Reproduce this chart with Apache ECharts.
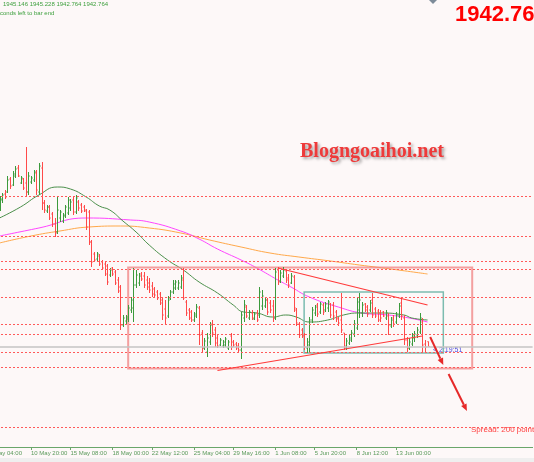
<!DOCTYPE html>
<html><head><meta charset="utf-8">
<script src="https://cdn.jsdelivr.net/npm/echarts@6/dist/echarts.min.js"></script>
<style>html,body{margin:0;padding:0;background:#fdf8f8;overflow:hidden}#c{width:534px;height:462px}</style>
</head><body><div id="c"></div><script>
// ---- time axis (H4 bars) ----
const monthNames = ['Jan','Feb','Mar','Apr','May','Jun','Jul','Aug','Sep','Oct','Nov','Dec'];
const categoryCount = 208;
const categories = [];
(function(){
  const d = new Date(2023, 4, 8);
  let first = true;
  while (categories.length < categoryCount) {
    const wd = d.getDay();
    if (wd !== 0 && wd !== 6) {
      for (const h of [0,4,8,12,16,20]) {
        if (first && h < 4) continue;
        if (categories.length < categoryCount)
          categories.push(d.getDate() + ' ' + monthNames[d.getMonth()] + ' ' + String(h).padStart(2,'0') + ':00');
      }
      first = false;
    }
    d.setDate(d.getDate() + 1);
  }
})();
const tickLabels = ['8 May 04:00','10 May 20:00','15 May 08:00','18 May 00:00','22 May 12:00','25 May 04:00','29 May 16:00','1 Jun 08:00','5 Jun 20:00','8 Jun 12:00','13 Jun 00:00'];
const firstBarTime = '8 May 20:00';

// ---- OHLC (XAUUSD H4) ----
const opens = [2012,2016,2019,2020,2026.5,2023.5,2028,2032,2024.5,2026.5,2024.5,2020,2025,2026,2029.5,2020,2032,2014.5,2010.5,2012.5,2009,2004,2000,2007,2005.5,2008,2009.5,2012,2016,2010,2015,2013.5,2012.5,2010.5,2010,1995,1989,1986.5,1988,1985,1984,1983,1978.5,1982,1980,1976,1972.5,1953.5,1955.5,1956.5,1961,1962,1973.5,1974.5,1979,1978,1976,1974.5,1973,1971.5,1970,1969,1966,1961.5,1958,1967,1970,1972,1972,1972.5,1976,1965,1961,1960,1956,1958,1962,1949.5,1942,1940,1945,1954,1951,1947,1943.5,1943,1943.5,1942,1948,1945,1944,1943,1941,1957,1962.5,1957,1959.5,1956.5,1959.5,1958.5,1963,1963,1966,1964.5,1963,1957,1981,1975.5,1978,1980.5,1977,1974.5,1977.5,1961,1954,1951,1948.5,1942,1943.5,1956,1959.5,1963.5,1960,1963.5,1961,1962,1964,1963.5,1960,1957,1956,1949.5,1942,1944.5,1946,1949,1952,1961,1959.5,1964,1962.5,1961,1966,1961.5,1960.5,1959.5,1960,1957,1958,1953,1957,1955,1958,1964.5,1957,1946,1942,1944,1947,1948.5,1950,1955,1944,1945.146];
const highs = [2018,2019.5,2021,2028,2027.5,2030.5,2033,2033.5,2028,2027,2042.5,2030,2028,2031,2031,2034.5,2035,2016,2013.5,2013.5,2010,2007,2017.5,2011,2009.5,2013.5,2017.5,2016.5,2017.5,2018.5,2016,2014.5,2013.5,2011.5,2011,1996,1990,1990,1989,1986,1985,1984,1982,1982.5,1981,1977.5,1973.5,1958.5,1958.5,1963.5,1967.5,1982,1981,1979.5,1980,1980,1978,1977,1975,1972.5,1971,1970,1967.5,1966,1968,1971,1976,1976,1976,1978.5,1982,1966,1962,1961,1960,1964,1963,1951,1947,1949.5,1955,1956,1952.5,1948.5,1947,1946,1947.5,1946,1949.5,1946,1945,1944.5,1960,1966,1963.5,1961,1961,1960,1961,1972.5,1971,1967,1967,1966,1966,1982,1982.5,1981,1982.5,1981,1979,1979.5,1978.5,1962,1955,1952,1949.5,1947,1957.5,1962.5,1963.5,1964.5,1965,1964.5,1965,1966,1964.5,1965,1961,1957.5,1969.5,1949.5,1947,1948.5,1951,1956,1967,1969.5,1965,1964.5,1963.5,1966,1969.5,1962.5,1961.5,1961,1960.5,1961,1959.5,1957.5,1958.5,1960,1964.5,1967.5,1958.5,1947.5,1947,1949.5,1950.5,1952.5,1959.5,1957,1946,1945.228];
const lows = [2010.5,2014.5,2016.5,2019.5,2021.5,2023,2027,2027.5,2024,2021,2017.5,2018.5,2024,2025,2018.5,2018.5,2011,2009.5,2009.5,2006,2002.5,1997.5,1999,2005,2004.5,2007,2008.5,2010.5,2008.5,2009,2010.5,2009.5,2010,2001,1993.5,1982.5,1985,1985.5,1983,1981,1978,1973.5,1977.5,1978,1973.5,1969.5,1951,1952.5,1954,1955,1959.5,1955,1972,1973,1975.5,1972,1971,1969.5,1967.5,1967.5,1966,1963.5,1956,1953.5,1957,1966,1969,1971,1971,1971.5,1966,1958,1956,1955,1955,1957,1943.5,1940,1941,1937.5,1943.5,1947.5,1942.5,1942,1943,1942,1942.5,1941,1941,1942.5,1941,1940,1936.5,1955,1957,1956,1956,1956,1955,1957,1961,1962,1958.5,1959.5,1955,1956,1973.5,1974.5,1977,1974.5,1972,1974,1960,1953,1947,1947,1941,1939.5,1940,1954.5,1958,1957.5,1959,1958.5,1960,1960,1957,1956,1955,1953,1949.5,1941,1941,1943.5,1945,1947.5,1951,1957,1957.5,1960,1957.5,1960,1957,1957,1955,1955,1957.5,1956,1948.5,1952,1952.5,1954,1957,1956,1943.5,1940,1941,1943,1945,1947,1949,1940,1940,1942.764];
const closes = [2016.5,2018.5,2017.5,2026,2023,2029,2031.5,2028,2027,2022,2020,2028,2027,2030,2021,2033,2014.5,2011,2012.5,2007,2004,1999.5,2011,2010,2008.5,2012.5,2016,2015,2010,2017,2012,2010.5,2011,2002.5,1995,1985,1986,1989,1984,1982,1979,1975,1981,1979,1974.5,1970.5,1953.5,1957,1957.5,1962,1966,1973.5,1978.5,1978,1976.5,1973.5,1972.5,1971,1969,1968.5,1967,1964.5,1958.5,1957,1966,1970,1974,1975,1974.5,1977,1967,1959.5,1957,1956,1959,1962.5,1948.5,1942,1945.5,1947,1953.5,1949.5,1944.5,1943,1946,1945,1946.5,1945,1942.5,1943.5,1942,1941,1958.5,1963.5,1958,1960,1957,1959,1956,1970,1968,1966,1960,1961,1957,1980,1975,1979.5,1981,1976,1973.5,1978,1962,1954.5,1948.5,1948,1942.5,1945,1956,1961,1962.5,1959,1964,1960,1964,1965,1958.5,1958,1956.5,1954.5,1951,1943,1945.5,1947,1949.5,1954,1965,1966,1963.5,1961,1959,1964.5,1958.5,1958,1956,1957,1958,1959.5,1953.5,1956,1954,1958.5,1963,1958,1946,1942,1945,1948,1949,1951,1957,1943.5,1942.5,1942.764];

// ---- moving averages: [bar index, price] ----
const maGreen = [[4,2007],[12,2012.5],[19,2018.5],[26,2022.5],[31,2021.5],[37,2017.5],[42,2013],[46,2011],[51,2005.5],[56,2000],[61,1993.5],[68,1986],[74,1981],[80,1975],[87,1969.5],[93,1963.5],[97,1960],[102,1959.5],[108,1957.5],[113,1958.5],[117,1957.5],[122,1955],[129,1956],[135,1958.5],[141,1959.5],[149,1959.5],[158,1958.5],[161,1957],[167,1956]];
const maMagenta = [[4,1998],[19,2002],[37,2007],[54,2006],[61,2005],[73,2000.5],[80,1996.5],[87,1991.5],[96,1986],[102,1982],[110,1976],[115,1972.5],[122,1967.5],[133,1962.5],[142,1959.5],[152,1958.5],[160,1957],[167,1955]];
const maOrange = [[4,1994.5],[16,1998],[27,2000.5],[38,2002.5],[50,2003],[61,2002],[73,1999.5],[84,1996],[96,1992.5],[107,1989.5],[118,1987.5],[130,1985.5],[141,1983.5],[153,1981.5],[167,1979]];

// ---- drawn objects (bar index, price) ----
const levels = [2018, 1998, 1985.5, 1981.5, 1967.5, 1954, 1949, 1940, 1932.5, 1902.5];
const bidPrice = 1942.764;
const pinkBox = [53, 1982.25, 184, 1931.75];
const tealBox = [120, 1970, 173, 1939.5];
const trendLines = [[110, 1982, 167, 1963.5], [87, 1930.75, 165, 1948]];
const arrows = [[168, 1947.5, 173, 1933.5], [175, 1929, 182, 1910.5]];

const UP = '#3c9a3c', DOWN = '#ff4a4a';
const firstBar = categories.indexOf(firstBarTime);
const ohlcData = opens.map((o, k) => [firstBar + k, o, highs[k], lows[k], closes[k]]);

const chart = echarts.init(document.getElementById('c'), null, {renderer: 'canvas'});
const fontFam = '"Liberation Sans", Arial, sans-serif';

function rectItem(box, color, width) {
  return {
    type: 'custom', coordinateSystem: 'cartesian2d', silent: true, z: 3,
    data: [box], encode: {x: [0, 2], y: [1, 3]},
    renderItem(params, api) {
      const a = api.coord([api.value(0), api.value(1)]);
      const b = api.coord([api.value(2), api.value(3)]);
      return {type: 'rect', shape: {x: a[0], y: a[1], width: b[0] - a[0], height: b[1] - a[1]},
        style: {fill: 'none', stroke: color, lineWidth: width}};
    }
  };
}

const option = {
  backgroundColor: '#fdf8f8',
  animation: false,
  grid: {left: -11, right: 1.4, top: 0, bottom: 15, containLabel: false, outerBoundsMode: 'none'},
  xAxis: {
    type: 'category', data: categories, boundaryGap: false,
    axisLine: {lineStyle: {color: '#6aa66a', width: 1}},
    axisTick: {show: true, length: 3, inside: false, interval: (i, v) => tickLabels.includes(v), lineStyle: {color: '#6aa66a'}},
    axisLabel: {interval: (i, v) => tickLabels.includes(v), align: 'left', margin: 3, fontSize: 6, color: '#5a9a5a', fontFamily: fontFam},
    splitLine: {show: false}
  },
  yAxis: {type: 'value', min: 1892.5, max: 2116, show: false, splitLine: {show: false}},
  series: [
    {
      type: 'line', data: [], z: 1, silent: true,
      markLine: {
        silent: true, symbol: ['none', 'none'], label: {show: false}, animation: false,
        data: levels.map(v => ({yAxis: v, lineStyle: {color: '#ff5a5a', width: 1, type: [2, 2]}}))
          .concat([{yAxis: bidPrice, lineStyle: {color: '#c4c4c4', width: 1.6, type: 'solid'}}])
      }
    },
    {type: 'line', data: maOrange, smooth: 0.5, showSymbol: false, silent: true, z: 2, lineStyle: {color: '#ffa84a', width: 1}},
    {type: 'line', data: maMagenta, smooth: 0.5, showSymbol: false, silent: true, z: 2, lineStyle: {color: '#ff45ff', width: 1}},
    {type: 'line', data: maGreen, smooth: 0.5, showSymbol: false, silent: true, z: 2, lineStyle: {color: '#4b8f4b', width: 1}},
    rectItem(pinkBox, 'rgba(240,130,130,0.75)', 2),
    rectItem(tealBox, '#7cbcb0', 1.5),
    {
      type: 'custom', coordinateSystem: 'cartesian2d', silent: true, z: 4,
      data: ohlcData, encode: {x: 0, y: [1, 2, 3, 4]},
      renderItem(params, api) {
        const i = api.value(0), o = api.value(1), h = api.value(2), l = api.value(3), c = api.value(4);
        const ph = api.coord([i, h]), pl = api.coord([i, l]), po = api.coord([i, o]), pc = api.coord([i, c]);
        const x = Math.round(ph[0]) + 0.5;
        const col = c >= o ? UP : DOWN;
        const st = {stroke: col, lineWidth: 1};
        return {type: 'group', children: [
          {type: 'line', shape: {x1: x, y1: ph[1], x2: x, y2: pl[1]}, style: st},
          {type: 'line', shape: {x1: x - 1.2, y1: po[1], x2: x, y2: po[1]}, style: st},
          {type: 'line', shape: {x1: x, y1: pc[1], x2: x + 1.2, y2: pc[1]}, style: st}
        ]};
      }
    },
    {
      type: 'custom', coordinateSystem: 'cartesian2d', silent: true, z: 5,
      data: trendLines, encode: {x: [0, 2], y: [1, 3]},
      renderItem(params, api) {
        const a = api.coord([api.value(0), api.value(1)]);
        const b = api.coord([api.value(2), api.value(3)]);
        return {type: 'line', shape: {x1: a[0], y1: a[1], x2: b[0], y2: b[1]}, style: {stroke: '#ff3a3a', lineWidth: 1.2}};
      }
    },
    {
      type: 'custom', coordinateSystem: 'cartesian2d', silent: true, z: 5,
      data: arrows, encode: {x: [0, 2], y: [1, 3]},
      renderItem(params, api) {
        const a = api.coord([api.value(0), api.value(1)]);
        const b = api.coord([api.value(2), api.value(3)]);
        const dx = b[0] - a[0], dy = b[1] - a[1], len = Math.hypot(dx, dy);
        const ux = dx / len, uy = dy / len, hl = 7, hw = 3;
        const bx = b[0] - ux * hl, by = b[1] - uy * hl;
        return {type: 'group', children: [
          {type: 'line', shape: {x1: a[0], y1: a[1], x2: bx, y2: by}, style: {stroke: '#e62828', lineWidth: 2}},
          {type: 'polygon', shape: {points: [[b[0], b[1]], [bx - uy * hw, by + ux * hw], [bx + uy * hw, by - ux * hw]]}, style: {fill: '#e62828'}}
        ]};
      }
    }
  ],
  graphic: [
    {type: 'rect', left: 0, top: 458, shape: {width: 534, height: 4}, style: {fill: '#efefef'}, silent: true, z: 0},
    {type: 'polygon', shape: {points: [[429, 0], [437, 0], [433, 4]]}, style: {fill: '#7d8b99'}, silent: true},
    {type: 'text', x: 3, y: 4.5, style: {text: '1945.146 1945.228 1942.764 1942.764', font: '6px ' + fontFam, fill: '#3fa03f', verticalAlign: 'middle'}, silent: true},
    {type: 'text', x: 0, y: 13.5, style: {text: 'conds left to bar end', font: '6px ' + fontFam, fill: '#3fa03f', verticalAlign: 'middle'}, silent: true},
    {type: 'text', x: 455, y: 15, style: {text: '1942.76', font: 'bold 22px ' + fontFam, fill: '#ff0000', verticalAlign: 'middle'}, silent: true},
    {type: 'text', x: 300, y: 152, style: {text: 'Blogngoaihoi.net', font: 'bold 20px "Liberation Serif", "Times New Roman", serif', fill: '#ee3a3a', verticalAlign: 'middle', textShadowColor: 'rgba(0,0,0,0.35)', textShadowBlur: 3, textShadowOffsetX: 2, textShadowOffsetY: 2}, silent: true},
    {type: 'text', x: 433, y: 350.5, style: {text: '< 2:19:51', font: '7px ' + fontFam, fill: '#4a4ae0', verticalAlign: 'middle'}, silent: true},
    {type: 'text', x: 471, y: 430, style: {text: 'Spread: 200 points', font: '8px ' + fontFam, fill: '#ff4040', verticalAlign: 'middle'}, silent: true}
  ]
};
chart.setOption(option);
</script></body></html>
